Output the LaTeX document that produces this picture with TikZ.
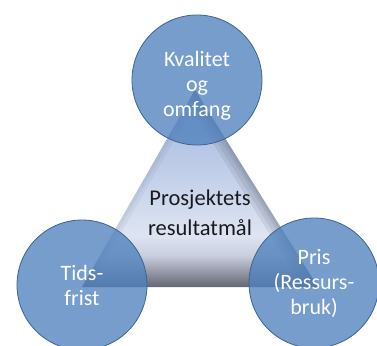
\documentclass[tikz,border=0pt]{standalone}
\usepackage{fontspec}
\setmainfont{Carlito}
\definecolor{bubblefill}{RGB}{79,129,189}
\definecolor{bubbleline}{RGB}{62,98,145}
\definecolor{goaltext}{RGB}{25,25,30}
\definecolor{edgegray}{RGB}{90,95,110}
\definecolor{trigray}{RGB}{100,103,115}
\definecolor{trimid}{RGB}{150,153,168}
\definecolor{trilight}{RGB}{200,206,222}
\definecolor{triwhite}{RGB}{222,228,242}
\definecolor{triwhiter}{RGB}{208,218,238}
\definecolor{triblue}{RGB}{186,201,231}
\definecolor{tritop}{RGB}{165,185,222}
\pgfdeclareverticalshading{trishade}{100bp}{color(0bp)=(trigray); color(25bp)=(trigray); color(29bp)=(trimid); color(33bp)=(trilight); color(38bp)=(triwhite); color(46bp)=(triwhiter); color(58bp)=(triblue); color(75bp)=(tritop); color(100bp)=(tritop)}
\tikzset{
  bubble/.style={circle, minimum size=130pt, inner sep=0pt, draw=bubbleline, line width=0.8pt,
    fill=bubblefill, fill opacity=0.78},
  bubbletext/.style={text=white, align=center, inner sep=0pt, font=\fontsize{22}{25}\selectfont},
  goal/.style={text=goaltext, align=center, font=\fontsize{22.5}{30}\selectfont},
  edgeshade/.style={draw=edgegray, opacity=0.13}
}
\begin{document}
\begin{tikzpicture}[x=1pt,y=-1pt]
    \useasboundingbox (0,0) rectangle (377,345);
    \coordinate (apex) at (195,90);
    \coordinate (lcorner) at (82,287);
    \coordinate (rcorner) at (318,287);
    \shade[shading=trishade] (apex) -- (lcorner) -- (rcorner) -- cycle;
    \begin{scope}
        \clip (apex) -- (lcorner) -- (rcorner) -- cycle;
        \foreach \w in {26,18,10,5}
            \draw[edgeshade, line width=\w pt] (apex) -- (rcorner);
        \foreach \w in {14,7}
            \draw[edgeshade, opacity=0.07, line width=\w pt] (apex) -- (lcorner);
    \end{scope}
    \node[goal] (goalbox) at (200,213) {Prosjektets\\resultatmål};
    \node[bubble] (kvalitet) at (197,80) {};
    \node[bubble] (tidsfrist) at (82,285) {};
    \node[bubble] (pris) at (314,283) {};
    \node[bubbletext] (kvalitettext) at ([yshift=-6pt]kvalitet.center) {Kvalitet\\og\\omfang};
    \node[bubbletext] (tidsfristtext) at (tidsfrist.center) {Tids-\\frist};
    \node[bubbletext] (pristext) at (pris.center) {Pris\\(Ressurs-\\bruk)};
\end{tikzpicture}
\end{document}
